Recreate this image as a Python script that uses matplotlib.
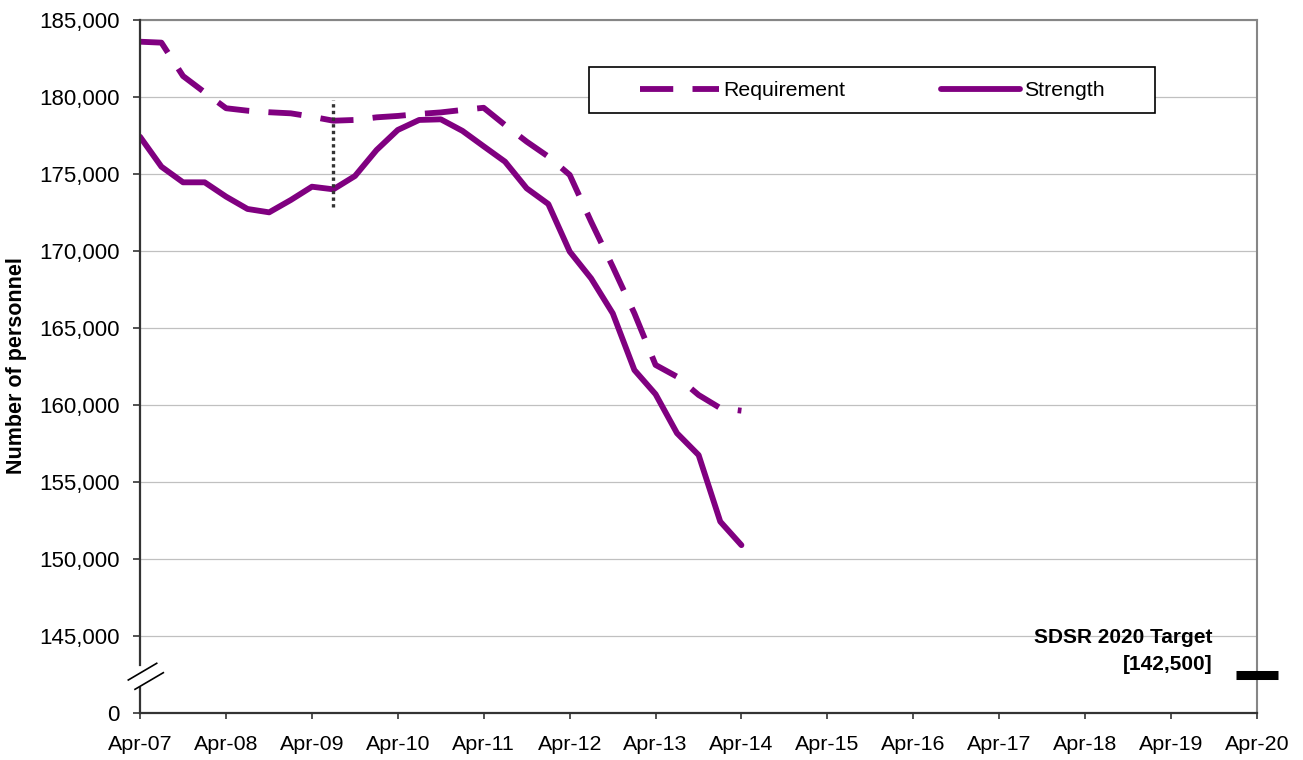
import matplotlib
matplotlib.use("Agg")
import matplotlib.pyplot as plt
import matplotlib.dates as mdates
from matplotlib.lines import Line2D
from matplotlib.patches import Rectangle
import pandas as pd
import numpy as np

plt.rcParams['font.family'] = ['Liberation Sans', 'DejaVu Sans']

# ---------------- data ----------------
quarters = pd.date_range('2007-04-01', '2014-04-01', freq='3MS')
requirement = [183590, 183530, 181360, 180300, 179270, 179110, 179010, 178940,
               178720, 178460, 178510, 178680, 178770, 178900, 179000, 179160,
               179300, 178180, 177100, 176130, 174940, 171900, 168980, 165950,
               162600, 161840, 160650, 159800, 159630]
strength = [177420, 175475, 174460, 174460, 173530, 172730, 172510, 173310,
            174175, 174005, 174870, 176560, 177860, 178510, 178550, 177800,
            176800, 175800, 174070, 173050, 169960, 168220, 165950, 162270,
            160700, 158170, 156750, 152430, 150900]
series_names = ['Requirement', 'Strength']
marker_date = '2009-07-01'
marker_range = [172850, 179800]
target_value = 142500
target_dates = ['2020-01-01', '2020-07-01']
target_label = 'SDSR 2020 Target\n[142,500]'
ytick_values = [140000, 145000, 150000, 155000, 160000, 165000, 170000,
                175000, 180000, 185000]
ytick_labels = ['0', '145,000', '150,000', '155,000', '160,000', '165,000',
                '170,000', '175,000', '180,000', '185,000']
x_start, x_end = '2007-04-01', '2020-04-01'
ylabel = 'Number of personnel'

# ---------------- figure ----------------
W, H = 1303, 760
fig = plt.figure(figsize=(W / 100, H / 100), dpi=100)
L, R, T, B = 140, 1257, 20, 713
ax = fig.add_axes([L / W, 1 - B / H, (R - L) / W, (B - T) / H])

purple = '#800080'
LW = 4.2
DASH = (5.7, 3.3)
ax.plot(quarters, strength, color=purple, lw=LW, solid_capstyle='round',
        solid_joinstyle='round', zorder=4)
ax.plot(quarters, requirement, color=purple, lw=LW, dashes=DASH,
        dash_capstyle='butt', zorder=4)

# vertical dotted marker
md = pd.Timestamp(marker_date)
ax.plot([md, md], marker_range, color='#333333', lw=2.4, ls=(0, (1, 1)),
        dash_capstyle='butt', zorder=5)

# target marker
ax.plot(pd.to_datetime(target_dates), [target_value, target_value], color='black',
        lw=6.5, solid_capstyle='butt', clip_on=False, zorder=6)
ax.text((1213 - L) / (R - L), (B - 651) / (B - T), target_label,
        transform=ax.transAxes, ha='right', va='center', fontsize=15,
        fontweight='bold', linespacing=1.55)

ax.set_xlim(pd.Timestamp(x_start), pd.Timestamp(x_end))
ax.set_ylim(ytick_values[0], ytick_values[-1])
ax.set_yticks(ytick_values)
ax.set_yticklabels(ytick_labels)
ax.xaxis.set_major_locator(mdates.MonthLocator(bymonth=4))
ax.xaxis.set_major_formatter(mdates.DateFormatter('%b-%y'))

ax.grid(axis='y', color='#c0c0c0', lw=0.9, zorder=0)
ax.set_axisbelow(True)
ax.tick_params(axis='y', direction='out', length=5, width=1.2, color='#333333',
               labelsize=16, pad=9.5)
ax.tick_params(axis='x', direction='out', length=4.5, width=1.2, color='#333333',
               labelsize=15.4, pad=11)

for s in ['top', 'right']:
    ax.spines[s].set_color('#868686')
    ax.spines[s].set_linewidth(1.5)
ax.spines['bottom'].set_color('#333333')
ax.spines['bottom'].set_linewidth(1.6)
ax.spines['left'].set_visible(False)

# left spine with break
def ax_pt(px, py):
    return ((px - L) / (R - L), (B - py) / (B - T))

for (y0, y1) in [(713, 688), (665, 20)]:
    p0, p1 = ax_pt(L, y0), ax_pt(L, y1)
    ax.add_line(Line2D([p0[0], p1[0]], [p0[1], p1[1]], transform=ax.transAxes,
                       color='#333333', lw=1.6, clip_on=False, zorder=7))
for (a, b) in [((128.3, 680), (156.7, 663.3)), ((135, 689.3), (163.3, 672.7))]:
    p0, p1 = ax_pt(*a), ax_pt(*b)
    ax.add_line(Line2D([p0[0], p1[0]], [p0[1], p1[1]], transform=ax.transAxes,
                       color='black', lw=1.2, clip_on=False, zorder=7))

fig.text(17 / W, 1 - 366 / H, ylabel, rotation=90, ha='center', va='center',
         fontsize=15.5, fontweight='bold')

# legend
fig.add_artist(Rectangle((589 / W, 1 - 113 / H), (1155 - 589) / W, (113 - 67) / H,
                         transform=fig.transFigure, facecolor='white',
                         edgecolor='black', lw=1.2, zorder=8))
handles = [Line2D([], [], color=purple, lw=LW, dashes=DASH, dash_capstyle='butt'),
           Line2D([], [], color=purple, lw=LW, solid_capstyle='round')]
leg = fig.legend(handles, series_names, loc='center left',
                 bbox_to_anchor=(640 / W, 1 - 90.5 / H), frameon=False, ncol=2,
                 fontsize=15.3, handlelength=3.72, handletextpad=0.19,
                 columnspacing=4.5, borderpad=0, borderaxespad=0)
leg.set_zorder(9)

fig.savefig('out.png', dpi=100)
